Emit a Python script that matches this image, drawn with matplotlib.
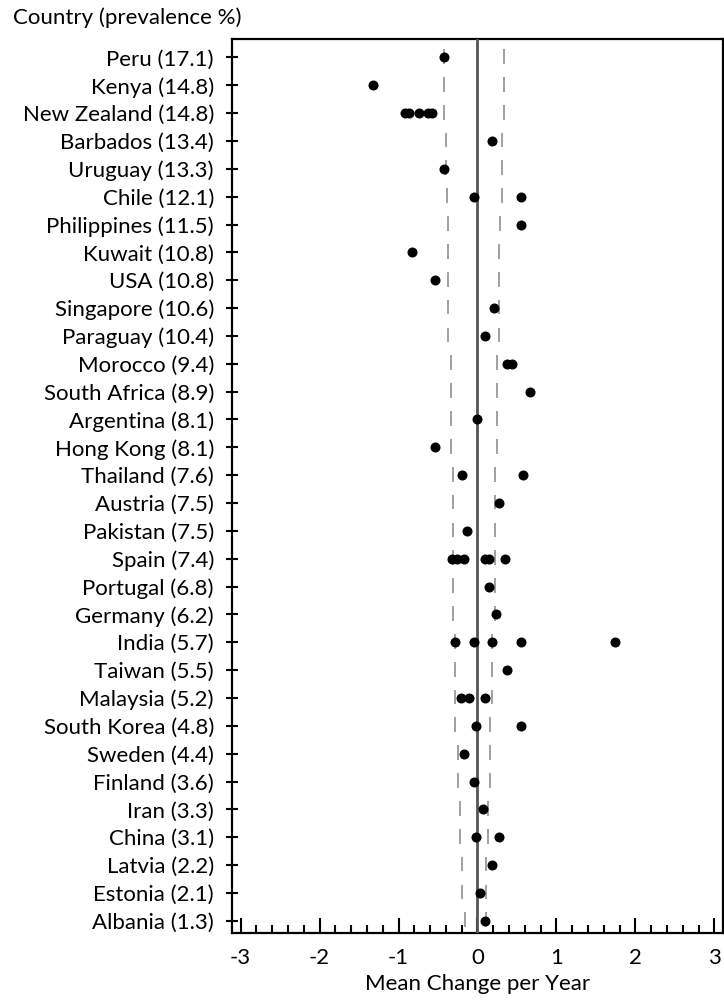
import matplotlib
matplotlib.use("Agg")
import matplotlib.pyplot as plt
from matplotlib.ticker import MultipleLocator

COUNTRIES = ["Peru", "Kenya", "New Zealand", "Barbados", "Uruguay", "Chile",
             "Philippines", "Kuwait", "USA", "Singapore", "Paraguay", "Morocco",
             "South Africa", "Argentina", "Hong Kong", "Thailand", "Austria",
             "Pakistan", "Spain", "Portugal", "Germany", "India", "Taiwan",
             "Malaysia", "South Korea", "Sweden", "Finland", "Iran", "China",
             "Latvia", "Estonia", "Albania"]
PREVALENCE = ["17.1", "14.8", "14.8", "13.4", "13.3", "12.1", "11.5", "10.8",
              "10.8", "10.6", "10.4", "9.4", "8.9", "8.1", "8.1", "7.6", "7.5",
              "7.5", "7.4", "6.8", "6.2", "5.7", "5.5", "5.2", "4.8", "4.4",
              "3.6", "3.3", "3.1", "2.2", "2.1", "1.3"]

# mean change per year, one list per country (several surveys for some)
CHANGES = [
    [-0.42],
    [-1.32],
    [-0.92, -0.87, -0.74, -0.63, -0.57],
    [0.18],
    [-0.43],
    [-0.05, 0.555],
    [0.555],
    [-0.83],
    [-0.54],
    [0.205],
    [0.09],
    [0.37, 0.437],
    [0.67],
    [0.0],
    [-0.54],
    [-0.196, 0.58],
    [0.268],
    [-0.137],
    [-0.32, -0.26, -0.17, 0.10, 0.15, 0.352],
    [0.146],
    [0.234],
    [-0.28, -0.05, 0.18, 0.555, 1.74],
    [0.38],
    [-0.205, -0.11, 0.09],
    [-0.023, 0.555],
    [-0.167],
    [-0.05],
    [0.065],
    [-0.02, 0.27],
    [0.18],
    [0.036],
    [0.09],
]

# dashed limits read per row
LOWER = [-0.42, -0.42, -0.42, -0.393, -0.393, -0.39, -0.372, -0.372, -0.372,
         -0.372, -0.372, -0.338, -0.338, -0.338, -0.338, -0.31, -0.31, -0.31,
         -0.31, -0.31, -0.31, -0.28, -0.28, -0.28, -0.28, -0.25, -0.25,
         -0.226, -0.226, -0.20, -0.20, -0.16]
UPPER = [0.335, 0.335, 0.335, 0.306, 0.306, 0.306, 0.285, 0.277, 0.277,
         0.277, 0.277, 0.248, 0.248, 0.248, 0.248, 0.22, 0.22, 0.22, 0.22,
         0.22, 0.22, 0.18, 0.18, 0.18, 0.16, 0.16, 0.16, 0.138, 0.138,
         0.11, 0.11, 0.11]

XTICKS = [-3, -2, -1, 0, 1, 2, 3]

plt.rcParams["font.family"] = ["Lato", "DejaVu Sans"]
plt.rcParams["axes.unicode_minus"] = False
FS = 16

fig = plt.figure(figsize=(7.24, 10.01), dpi=100)
ax = fig.add_axes([0.3204, 0.0679, 0.6782, 0.8931])

n = len(COUNTRIES)
for i, vals in enumerate(CHANGES):
    ax.plot(vals, [i] * len(vals), "o", color="black", ms=6.2, zorder=4)
    ax.vlines([LOWER[i], UPPER[i]], i - 0.3, i + 0.23, color="#999999",
              lw=1.3, zorder=2)

ax.axvline(0, color="#555555", lw=2, zorder=3)

ax.set_xlim(-3.11, 3.11)
ax.set_ylim(n - 1 + 0.44, -0.66)

ax.set_yticks(range(n))
ax.set_yticklabels([f"{c} ({p})" for c, p in zip(COUNTRIES, PREVALENCE)],
                   fontsize=FS)
ax.set_xticks(XTICKS)
ax.set_xticklabels([str(t) for t in XTICKS], fontsize=FS)
ax.xaxis.set_minor_locator(MultipleLocator(0.2))

ax.tick_params(axis="x", which="major", direction="in", length=11, width=1.5,
               pad=11, top=False)
ax.tick_params(axis="x", which="minor", direction="in", length=6, width=1.5,
               top=False)
ax.tick_params(axis="y", direction="inout", length=8, width=1.5, pad=9)

for s in ax.spines.values():
    s.set_linewidth(1.6)

ax.set_xlabel("Mean Change per Year", fontsize=FS, labelpad=4)
fig.text(0.018, 0.982, "Country (prevalence %)", fontsize=FS,
         ha="left", va="center")

fig.savefig("out.png", dpi=100)
